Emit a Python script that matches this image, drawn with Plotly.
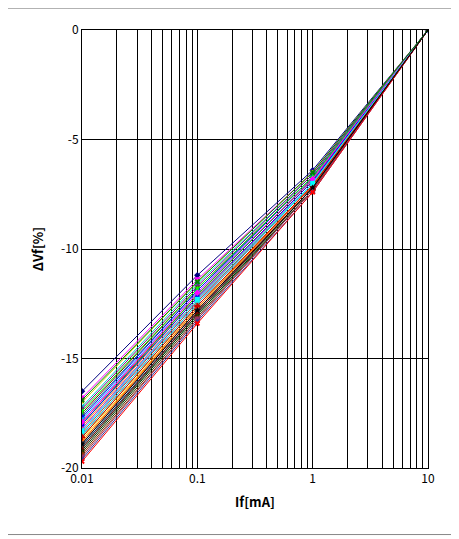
import plotly.graph_objects as go

currents = [0.01, 0.1, 1, 10]
dv_001 = [-16.5, -16.8, -17.0, -17.2, -17.3, -17.5, -17.6, -17.7, -17.8, -17.9,
          -18.0, -18.1, -18.2, -18.2, -18.3, -18.4, -18.5, -18.5, -18.6, -18.7,
          -18.8, -18.8, -18.9, -19.0, -19.0, -19.1, -19.2, -19.3, -19.4, -19.5,
          -19.6, -19.7, -17.4, -18.0, -18.6, -17.9, -18.3, -19.1, -16.9, -18.9]
dv_01 = [-11.2, -11.4, -11.5, -11.6, -11.7, -11.8, -11.9, -11.9, -12.0, -12.1,
         -12.1, -12.2, -12.3, -12.3, -12.4, -12.4, -12.5, -12.5, -12.6, -12.7,
         -12.7, -12.8, -12.8, -12.9, -12.9, -13.0, -13.0, -13.1, -13.2, -13.2,
         -13.3, -13.4, -11.8, -12.2, -12.6, -12.0, -12.3, -12.9, -11.5, -12.8]
dv_1 = [-6.4, -6.5, -6.5, -6.6, -6.6, -6.7, -6.7, -6.7, -6.8, -6.8,
        -6.8, -6.9, -6.9, -6.9, -7.0, -7.0, -7.0, -7.0, -7.1, -7.1,
        -7.1, -7.1, -7.2, -7.2, -7.2, -7.2, -7.3, -7.3, -7.3, -7.3,
        -7.4, -7.4, -6.7, -6.9, -7.1, -6.8, -7.0, -7.2, -6.5, -7.2]
dv_10 = [0.0] * len(dv_001)
y_ticks = [0, -5, -10, -15, -20]
y_ticktext = ["0", "-5", "-10", "-15", "-20"]

colors = ["#000080", "#FF00FF", "#CCCC00", "#00CCCC", "#800080", "#800000", "#008080",
          "#0000FF", "#00AAFF", "#FF0000", "#00CC00", "#FF9900", "#3366FF", "#FF3399",
          "#9933FF", "#996633", "#3366FF", "#33CCCC", "#99CC00", "#FFCC00", "#FF6600",
          "#FF6600", "#666699", "#969696", "#003366", "#339966", "#003300", "#333300",
          "#993300", "#993366", "#333399", "#FF0000", "#00FF00", "#0000FF", "#CC0000",
          "#FF00FF", "#00FFFF", "#800000", "#008000", "#000000"]
symbols = ["diamond", "square", "triangle-up", "x", "star", "circle", "cross"]

fig = go.Figure()
for i in range(len(dv_001)):
    fig.add_trace(go.Scatter(
        x=currents, y=[dv_001[i], dv_01[i], dv_1[i], dv_10[i]],
        mode="lines+markers", line=dict(color=colors[i % len(colors)], width=1),
        marker=dict(symbol=symbols[i % len(symbols)], size=5, color=colors[i % len(colors)]),
        showlegend=False))

W, H = 459, 539
L, R, T, B = 74, 39, 19, 79
pw, ph = W - L - R, H - T - B
fig.add_shape(type="rect", xref="paper", yref="paper",
              x0=(-3 + 0.5 - L) / pw, x1=(446 - L) / pw, y0=(H - B - 527) / ph, y1=(H - B + 3) / ph,
              line=dict(color="#888888", width=1))

fig.update_layout(
    width=W, height=H, margin=dict(l=L, r=R, t=T, b=B),
    paper_bgcolor="white", plot_bgcolor="white",
    font=dict(family="Noto Sans CJK JP", size=12, color="black"),
    xaxis=dict(type="log", range=[-2, 1], tickvals=[0.01, 0.1, 1, 10],
               ticktext=["0.01", "0.1", "1", "10"], showgrid=True, gridcolor="black",
               gridwidth=1, minor=dict(dtick="D1", showgrid=True, gridcolor="black", gridwidth=1),
               showline=True, linecolor="black", mirror=True, zeroline=False,
               title=dict(text="<b>If[mA]</b>", font=dict(size=13), standoff=12), ticks=""),
    yaxis=dict(range=[-20, 0], tickvals=y_ticks, ticktext=y_ticktext, showgrid=True, gridcolor="black",
               showline=True, linecolor="black", mirror=True, zeroline=False,
               title=dict(text="<b>ΔVf[%]</b>", font=dict(size=13), standoff=14), ticks=""),
)
fig.write_html("out.html")
